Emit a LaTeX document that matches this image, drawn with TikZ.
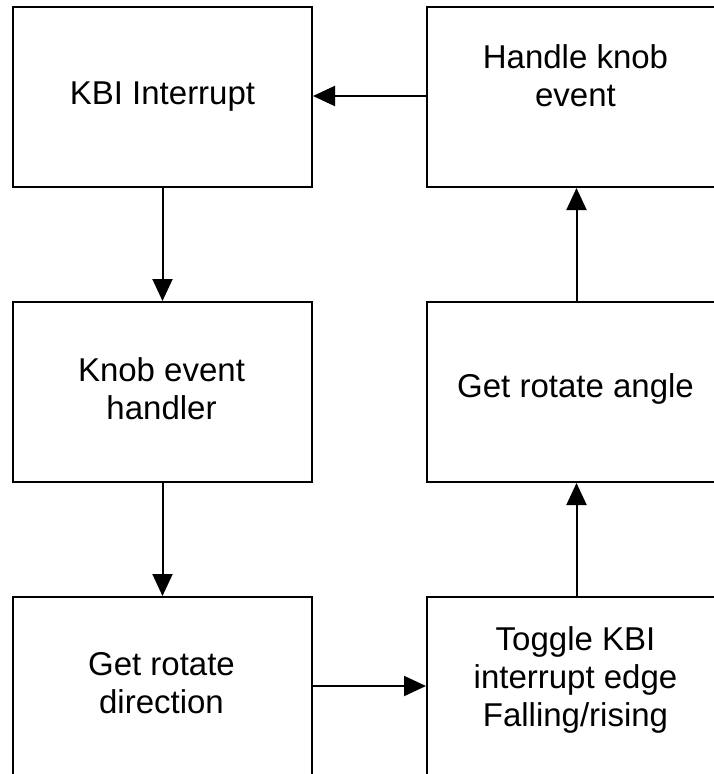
\documentclass[tikz,border=0pt]{standalone}
\usepackage{fontspec}
\setmainfont{Liberation Sans}
\usetikzlibrary{arrows.meta}
\begin{document}
\begin{tikzpicture}[x=1pt,y=-1pt,
  box/.style={draw=black,line width=2pt,minimum width=299pt,minimum height=180pt,inner sep=0pt,anchor=north west},
  lbl/.style={align=center,font=\fontsize{33}{38}\selectfont,inner sep=0pt},
  conn/.style={line width=2pt,-{Triangle[length=22pt,width=20pt]}}]
\useasboundingbox (0,0) rectangle (714,774);
\clip (0,0) rectangle (714,774);
\node[box] (kbi) at (12,6) {};
\node[box] (hke) at (426,6) {};
\node[box] (keh) at (12,301) {};
\node[box] (gra) at (426,301) {};
\node[box] (grd) at (12,596) {};
\node[box] (tog) at (426,596) {};
\node[lbl] (tkbi) at (kbi.center) {KBI Interrupt};
\node[lbl] (thke) at (575.5,76) {Handle knob\\event};
\node[lbl] (tkeh) at (161.5,389) {Knob event\\handler};
\node[lbl] (tgra) at (575.5,389) {Get rotate angle};
\node[lbl] (tgrd) at (161.5,683) {Get rotate\\direction};
\node[lbl] (ttog) at (575.5,680) {Toggle KBI\\interrupt edge\\Falling/rising};
\draw[conn] (hke.west |- 0,96) -- (kbi.east |- 0,96);
\draw[conn] (kbi.south) -- (keh.north);
\draw[conn] (keh.south) -- (grd.north);
\draw[conn] (grd.east |- 0,686) -- (tog.west |- 0,686);
\draw[conn] (tog.north) -- (gra.south);
\draw[conn] (gra.north) -- (hke.south);
\end{tikzpicture}
\end{document}
